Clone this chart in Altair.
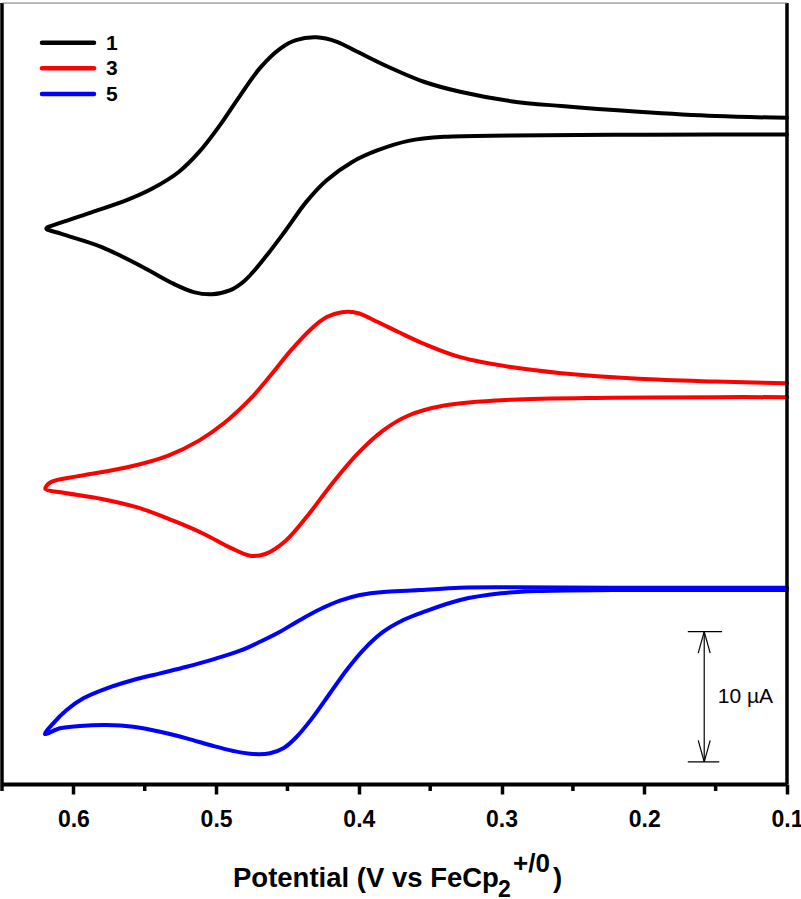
import altair as alt
import pandas as pd

# ---------------- data ----------------
series_names = ["1", "3", "5"]
series_colors = ["#000000", "#ff0000", "#0000ff"]

# potential (V vs FeCp2+/0) and current (uA, offset per trace)
black_E = [0.100, 0.150, 0.204, 0.258, 0.2935, 0.329, 0.3545, 0.3795, 0.401, 0.4153,
           0.4297, 0.444, 0.4548, 0.469, 0.4834, 0.4978, 0.512, 0.5264, 0.5443, 0.5622,
           0.5873, 0.6088, 0.6189,
           0.6088, 0.5801, 0.5515, 0.530, 0.5157, 0.5031, 0.4905, 0.4798, 0.4655, 0.4512,
           0.4368, 0.4225, 0.4046, 0.3867, 0.3652, 0.3401, 0.2935, 0.2219, 0.150, 0.100]
black_I = [51.18, 51.31, 51.64, 52.08, 52.46, 53.18, 53.95, 55.10, 56.25, 57.02,
           57.36, 57.15, 56.52, 55.04, 52.85, 50.54, 48.54, 47.00, 45.77, 44.88,
           43.92, 43.12, 42.67,
           42.28, 41.25, 39.72, 38.44, 37.79, 37.62, 37.92, 38.69, 40.48, 42.54,
           44.72, 46.38, 47.79, 48.69, 49.41, 49.72, 49.82, 49.87, 49.90, 49.90]

red_E = [0.100, 0.150, 0.204, 0.258, 0.2935, 0.329, 0.3545, 0.3723, 0.3867, 0.401,
         0.4118, 0.4225, 0.4332, 0.4476, 0.4619, 0.4762, 0.4941, 0.512, 0.5335, 0.5622,
         0.5944, 0.616, 0.6196,
         0.6088, 0.5801, 0.5551, 0.530, 0.5085, 0.4905, 0.4762, 0.4655, 0.4512, 0.4368,
         0.4189, 0.401, 0.3831, 0.3652, 0.3401, 0.2935, 0.2219, 0.150, 0.100]
red_I = [30.79, 30.92, 31.13, 31.56, 32.03, 32.79, 33.82, 34.72, 35.49, 36.18,
         36.25, 35.87, 34.98, 33.31, 31.38, 29.56, 27.75, 26.38, 25.23, 24.33,
         23.69, 23.18, 22.67,
         22.41, 21.90, 21.25, 20.23, 19.21, 18.18, 17.54, 17.67, 18.69, 20.49,
         23.05, 25.36, 27.15, 28.31, 29.08, 29.52, 29.67, 29.72, 29.72]

blue_E = [0.100, 0.2219, 0.2934, 0.3291, 0.3571, 0.3805, 0.3992, 0.4132, 0.4272, 0.4412,
          0.4552, 0.4692, 0.4832, 0.502, 0.5206, 0.5393, 0.558, 0.5766, 0.593, 0.6047,
          0.6141, 0.6199,
          0.6094, 0.5953, 0.5766, 0.558, 0.5393, 0.5206, 0.502, 0.4879, 0.4739, 0.4622,
          0.4529, 0.4435, 0.4319, 0.4202, 0.4085, 0.3969, 0.3828, 0.3688, 0.3541, 0.3290,
          0.3004, 0.2754, 0.2217, 0.100]
blue_I = [15.08, 15.08, 15.11, 15.08, 14.90, 14.77, 14.52, 14.08, 13.42, 12.60,
          11.70, 10.93, 10.24, 9.58, 9.01, 8.50, 7.99, 7.35, 6.58, 5.68,
          4.66, 3.84,
          4.28, 4.46, 4.53, 4.40, 4.02, 3.51, 2.92, 2.54, 2.30, 2.36,
          2.74, 3.63, 5.17, 6.97, 8.76, 10.29, 11.70, 12.60, 13.24, 14.14,
          14.65, 14.83, 14.90, 14.90]

major_ticks = [0.6, 0.5, 0.4, 0.3, 0.2, 0.1]
minor_ticks = [0.65, 0.55, 0.45, 0.35, 0.25, 0.15]

# scale bar: 10 uA
bar_E = 0.158
bar_low = 1.7
bar_high = 11.7
bar_label = "10 \u00b5A"

# ---------------- build tables ----------------
rows = []
for name, Es, Is in zip(series_names, [black_E, red_E, blue_E], [black_I, red_I, blue_I]):
    for k, (e, i) in enumerate(zip(Es, Is)):
        rows.append({"series": name, "idx": k, "E": e, "I": i})
df = pd.DataFrame(rows)

W, H = 785, 781
FONT = "Liberation Sans"

xscale = alt.Scale(domain=[0.1, 0.65], reverse=True, nice=False, zero=False)
yscale = alt.Scale(domain=[0, 60], nice=False, zero=False)
xaxis = alt.Axis(values=major_ticks, format=".1f", title=None, grid=False,
                 domainWidth=4, domainColor="black", tickColor="black",
                 tickWidth=3.5, tickSize=10, labelFont=FONT, labelFontWeight="bold",
                 labelFontSize=23, labelColor="black", labelPadding=14,
                 labelFlush=False, labelOverlap=False, labelBound=False)


def X(field="E"):
    return alt.X(f"{field}:Q", scale=xscale, axis=xaxis)


def Y(field="I"):
    return alt.Y(f"{field}:Q", scale=yscale, axis=None)


curves = alt.Chart(df).mark_line(
    strokeWidth=4, interpolate="catmull-rom", strokeCap="round", strokeJoin="round"
).encode(
    x=X(), y=Y(),
    color=alt.Color("series:N", scale=alt.Scale(domain=series_names, range=series_colors),
                    legend=None),
    detail="series:N",
    order="idx:Q",
)

minor = alt.Chart(pd.DataFrame({"E": minor_ticks})).mark_rule(
    strokeWidth=3.5, color="black"
).encode(x=X(), y=alt.value(H), y2=alt.value(H + 7))

one = pd.DataFrame({"k": [0]})

# frame (left, right, top)
frame = [
    alt.Chart(one).mark_rule(strokeWidth=3.5, color="black").encode(
        x=alt.value(0), y=alt.value(0), y2=alt.value(H)),
    alt.Chart(one).mark_rule(strokeWidth=3.5, color="black").encode(
        x=alt.value(W), y=alt.value(0), y2=alt.value(H)),
    alt.Chart(one).mark_rule(strokeWidth=1, color="#888888").encode(
        x=alt.value(0), x2=alt.value(W), y=alt.value(0)),
]

# scale bar
head_len = 1.65
head_half = 0.0042
bar_df = pd.DataFrame({
    "E": [bar_E, bar_E + 0.0115, bar_E + 0.0115,
          bar_E, bar_E, bar_E, bar_E],
    "E2": [bar_E, bar_E - 0.0125, bar_E - 0.0105,
           bar_E + head_half, bar_E - head_half, bar_E + head_half, bar_E - head_half],
    "I": [bar_low, bar_high, bar_low,
          bar_high, bar_high, bar_low, bar_low],
    "I2": [bar_high, bar_high, bar_low,
           bar_high - head_len, bar_high - head_len, bar_low + head_len, bar_low + head_len],
})
bar = alt.Chart(bar_df).mark_rule(strokeWidth=1.2, color="black").encode(
    x=X(), x2="E2:Q", y=Y(), y2="I2:Q")
bar_text = alt.Chart(pd.DataFrame({"E": [bar_E - 0.0095], "I": [(bar_low + bar_high) / 2],
                                   "t": [bar_label]})).mark_text(
    align="left", baseline="middle", font=FONT, fontSize=21, color="black"
).encode(x=X(), y=Y(), text="t:N")

# legend
legend_layers = []
for i, (name, col) in enumerate(zip(series_names, series_colors)):
    ly = 39.7 + i * 25.65
    legend_layers.append(alt.Chart(one).mark_rule(strokeWidth=4.5, color=col, strokeCap="round")
                         .encode(x=alt.value(40), x2=alt.value(92), y=alt.value(ly)))
    legend_layers.append(alt.Chart(one).mark_text(
        align="left", baseline="middle", font=FONT, fontSize=21, fontWeight="bold", color="black")
        .encode(x=alt.value(104), y=alt.value(ly + 1), text=alt.value(name)))

# axis title with sub/superscript
title_parts = [
    ("Potential (V vs FeCp", 231, 884, 27.5),
    ("2", 496, 894, 23),
    ("+/0", 511, 869, 26),
    (")", 551, 884, 27.5),
]
title_layers = []
for txt, tx, ty, fs in title_parts:
    title_layers.append(alt.Chart(one).mark_text(
        align="left", baseline="alphabetic", font=FONT, fontSize=fs, fontWeight="bold",
        color="black").encode(x=alt.value(tx), y=alt.value(ty), text=alt.value(txt)))

chart = alt.layer(
    curves, minor, bar, bar_text, *frame, *legend_layers, *title_layers
).properties(
    width=W, height=H,
    autosize=alt.AutoSizeParams(type="none"),
    padding={"left": 2, "top": 3, "right": 801 - 2 - W, "bottom": 899 - 3 - H},
).configure_view(stroke=None).configure(background="white")

chart.save("out.html", embed_options={"renderer": "svg", "actions": False})
